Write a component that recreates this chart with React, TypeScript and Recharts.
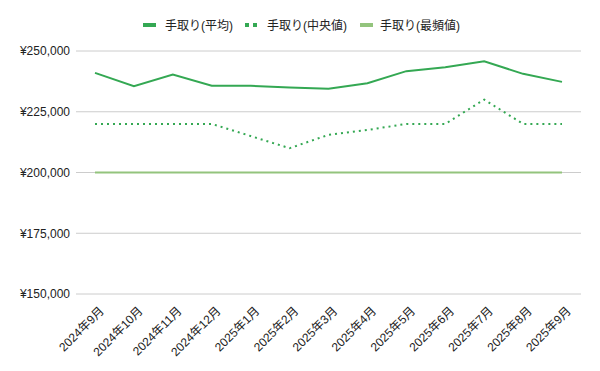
import React from "react";
import { LineChart, Line, XAxis, YAxis, CartesianGrid, Legend } from "recharts";

const months = [
  "2024年9月", "2024年10月", "2024年11月", "2024年12月", "2025年1月", "2025年2月",
  "2025年3月", "2025年4月", "2025年5月", "2025年6月", "2025年7月", "2025年8月", "2025年9月",
];
const avgValues = [241000, 235500, 240300, 235700, 235700, 235000, 234500, 236700, 241700, 243300, 245800, 240600, 237300];
const medianValues = [220000, 220000, 220000, 220000, 215000, 210000, 215500, 217500, 220000, 220000, 230000, 220000, 220000];
const modeValues = [200000, 200000, 200000, 200000, 200000, 200000, 200000, 200000, 200000, 200000, 200000, 200000, 200000];
const yTicks = [150000, 175000, 200000, 225000, 250000];

const seriesNames = ["手取り(平均)", "手取り(中央値)", "手取り(最頻値)"];
const colors = ["#34a853", "#34a853", "#93c47d"];

const data = months.map((m, i) => ({
  month: m,
  avg: avgValues[i],
  median: medianValues[i],
  mode: modeValues[i],
}));

const FONT = "'Liberation Sans', Arial, 'Noto Sans CJK JP', sans-serif";

const LegendContent = () => {
  const items = [
    { x: 143, tx: 165, dotted: false, c: colors[0], name: seriesNames[0] },
    { x: 245, tx: 267, dotted: true, c: colors[1], name: seriesNames[1] },
    { x: 360, tx: 380, dotted: false, c: colors[2], name: seriesNames[2] },
  ];
  return (
    <svg width={600} height={20} style={{ display: "block" }}>
      {items.map((it, i) => (
        <g key={i}>
          {it.dotted ? (
            <>
              <rect x={it.x} y={8} width={4} height={4} fill={it.c} />
              <rect x={it.x + 8} y={8} width={4} height={4} fill={it.c} />
            </>
          ) : (
            <rect x={it.x} y={8} width={13} height={4} fill={it.c} />
          )}
          <text x={it.tx} y={14.5} fontSize={12} fill="#222" fontFamily={FONT}>
            {it.name}
          </text>
        </g>
      ))}
    </svg>
  );
};

const XTick = (props: any) => {
  const { x, y, payload } = props;
  return (
    <g transform={`translate(${x + 4},${y + 4})`}>
      <text
        x={0}
        y={0}
        dy={8}
        textAnchor="end"
        transform="rotate(-45)"
        fontSize={12}
        fill="#222"
        fontFamily={FONT}
      >
        {payload.value}
      </text>
    </g>
  );
};

export default function App() {
  return (
    <div style={{ position: "absolute", left: 0, top: 0, width: 600, height: 371, background: "#fff" }}>
      <LineChart
        width={600}
        height={371}
        data={data}
        margin={{ top: 31, right: 19, left: 0, bottom: 0 }}
        style={{ fontFamily: FONT }}
      >
        <CartesianGrid vertical={false} stroke="#cccccc" />
        <XAxis
          dataKey="month"
          height={77}
          axisLine={false}
          tickLine={false}
          interval={0}
          padding={{ left: 19, right: 19 }}
          tick={<XTick />}
        />
        <YAxis
          width={76}
          domain={[150000, 250000]}
          ticks={yTicks}
          axisLine={false}
          tickLine={false}
          tickMargin={0}
          tick={{ fontSize: 12, fill: "#222", fontFamily: FONT }}
          tickFormatter={(v: number) => "¥" + v.toLocaleString("en-US")}
        />
        <Legend
          verticalAlign="top"
          height={20}
          content={<LegendContent />}
          wrapperStyle={{ top: 15, left: 0, width: 600 }}
        />
        <Line
          dataKey="avg"
          name={seriesNames[0]}
          stroke={colors[0]}
          strokeWidth={2}
          dot={false}
          isAnimationActive={false}
        />
        <Line
          dataKey="median"
          name={seriesNames[1]}
          stroke={colors[1]}
          strokeWidth={2}
          strokeDasharray="2 4"
          dot={false}
          isAnimationActive={false}
        />
        <Line
          dataKey="mode"
          name={seriesNames[2]}
          stroke={colors[2]}
          strokeWidth={2}
          dot={false}
          isAnimationActive={false}
        />
      </LineChart>
    </div>
  );
}
